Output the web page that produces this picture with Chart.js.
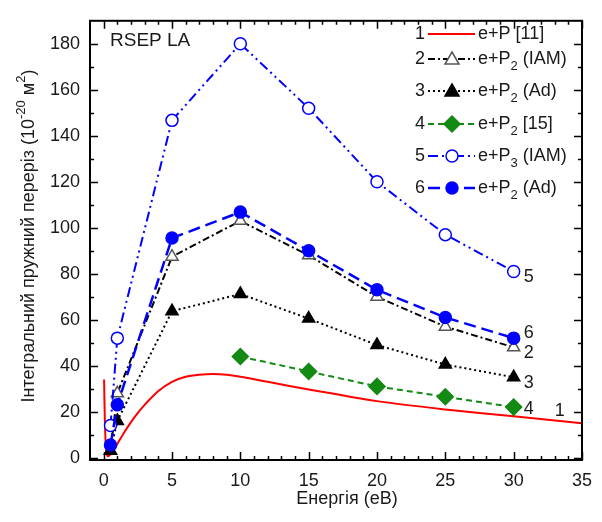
<!DOCTYPE html>
<html>
<head>
<meta charset="utf-8">
<script src="https://cdn.jsdelivr.net/npm/chart.js@4.4.0/dist/chart.umd.min.js"></script>
<style>
    html, body { margin: 0; padding: 0; background: #fff; }
    #wrap { width: 602px; height: 522px; }
</style>
</head>
<body>
<div id="wrap"><canvas id="chart" width="602" height="522"></canvas></div>
<script>
// --- data ---
const energy = [0.5, 1, 5, 10, 15, 20, 25, 30];
const p2IAM = [3, 28, 87.4, 103, 88, 70, 57, 48];
const p2Ad = [3, 16, 63.7, 71.2, 60.5, 49, 40.5, 35];
const p3IAM = [14, 52, 146.7, 180, 152, 120, 97, 81];
const p2AdFull = [5.5, 23, 95.5, 106.8, 90, 73, 61, 52];
const ref15Energy = [10, 15, 20, 25, 30];
const ref15 = [44, 37.5, 31, 26.5, 22];
const pEnergy = [0.03, 0.08, 0.14, 0.2, 0.3, 0.5, 0.75, 1, 1.5, 2, 2.5, 3, 4, 5, 6, 7, 8, 9, 10, 12, 15, 20, 25, 30, 35];
const pCross = [34, 18, 7, 2.5, 0.6, 1.5, 3.5, 6, 11, 15.5, 19.5, 23, 29, 33, 35.2, 36.1, 36.4, 36.1, 35.2, 33, 29.7, 24.6, 21, 18, 15];
const xTicks = [0, 5, 10, 15, 20, 25, 30, 35];
const yTicks = [0, 20, 40, 60, 80, 100, 120, 140, 160, 180];

const FONT = '"Liberation Sans", Arial, sans-serif';
const RED = '#ff0000', BLUE = '#0000ff', GREEN = '#138a13', BLACK = '#000000';

const pts = (xs, ys) => xs.map((x, i) => ({ x: x, y: ys[i] }));

// series styles, shared with the hand drawn legend
const series = [
    { n: '1', label: ['e+P [11]'], color: RED, dash: [], width: 2, style: false },
    { n: '2', label: ['e+P', '2', ' (IAM)'], color: BLACK, dash: [7, 3, 2, 3], width: 2, style: 'triangle', fill: '#fff', pColor: '#555' },
    { n: '3', label: ['e+P', '2', ' (Ad)'], color: BLACK, dash: [2, 3], width: 2, style: 'triangle', fill: BLACK, pColor: BLACK },
    { n: '4', label: ['e+P', '2', ' [15]'], color: GREEN, dash: [6, 4], width: 2, style: 'rectRot', fill: GREEN, pColor: GREEN },
    { n: '5', label: ['e+P', '3', ' (IAM)'], color: BLUE, dash: [10, 4, 2, 4, 2, 4], width: 2, style: 'circle', fill: '#fff', pColor: BLUE },
    { n: '6', label: ['e+P', '2', ' (Ad)'], color: BLUE, dash: [12, 6], width: 2.5, style: 'circle', fill: BLUE, pColor: BLUE }
];
const seriesData = [pts(pEnergy, pCross), pts(energy, p2IAM), pts(energy, p2Ad), pts(ref15Energy, ref15), pts(energy, p3IAM), pts(energy, p2AdFull)];
const endLabels = [
    { i: 0, x: 33, y: 15, dx: 0, dy: -12 },
    { i: 1, x: 30, y: 48, dx: 10, dy: 6 },
    { i: 2, x: 30, y: 35, dx: 10, dy: 6 },
    { i: 3, x: 30, y: 22, dx: 10, dy: 2 },
    { i: 4, x: 30, y: 81, dx: 10, dy: 6 },
    { i: 5, x: 30, y: 52, dx: 10, dy: -5 }
];

function drawMarker(ctx, s, x, y) {
    if (!s.style) return;
    ctx.save();
    ctx.setLineDash([]);
    ctx.lineWidth = 1.5;
    ctx.strokeStyle = s.pColor;
    ctx.fillStyle = s.fill;
    ctx.beginPath();
    if (s.style === 'circle') {
        ctx.arc(x, y, 6, 0, Math.PI * 2);
    } else if (s.style === 'triangle') {
        ctx.moveTo(x, y - 7); ctx.lineTo(x + 7, y + 5); ctx.lineTo(x - 7, y + 5); ctx.closePath();
    } else {
        ctx.moveTo(x, y - 8); ctx.lineTo(x + 8, y); ctx.lineTo(x, y + 8); ctx.lineTo(x - 8, y); ctx.closePath();
    }
    ctx.fill();
    ctx.stroke();
    ctx.restore();
}

// text with sub/superscript pieces: [main, script, main, script, ...]
function drawPieces(ctx, pieces, x, y, shift) {
    let cx = x;
    pieces.forEach((p, k) => {
        const small = k % 2 === 1;
        ctx.font = (small ? '13px ' : '18px ') + FONT;
        ctx.fillText(p, cx, small ? y + shift : y);
        cx += ctx.measureText(p).width;
    });
    return cx - x;
}
function piecesWidth(ctx, pieces) {
    let w = 0;
    pieces.forEach((p, k) => {
        ctx.font = (k % 2 === 1 ? '13px ' : '18px ') + FONT;
        w += ctx.measureText(p).width;
    });
    return w;
}

const decorations = {
    id: 'decorations',
    afterDraw(chart) {
        const ctx = chart.ctx;
        const a = chart.chartArea;
        const xs = chart.scales.x, ys = chart.scales.y;
        ctx.save();
        // frame
        ctx.strokeStyle = '#000';
        ctx.lineWidth = 2;
        ctx.strokeRect(a.left, a.top, a.right - a.left, a.bottom - a.top);
        // inward ticks
        ctx.lineWidth = 1.5;
        ctx.beginPath();
        for (let v = 0; v <= 35; v++) {
            const px = Math.round(xs.getPixelForValue(v)) + 0.5;
            const len = v % 5 === 0 ? 8 : 4;
            ctx.moveTo(px, a.bottom); ctx.lineTo(px, a.bottom - len);
            ctx.moveTo(px, a.top); ctx.lineTo(px, a.top + len);
        }
        for (let v = 0; v <= 180; v += 10) {
            const py = Math.round(ys.getPixelForValue(v)) + 0.5;
            const len = v % 20 === 0 ? 8 : 4;
            ctx.moveTo(a.left, py); ctx.lineTo(a.left + len, py);
            ctx.moveTo(a.right, py); ctx.lineTo(a.right - len, py);
        }
        ctx.stroke();

        ctx.fillStyle = '#1a1a1a';
        ctx.textBaseline = 'middle';
        // panel label
        ctx.font = '19px ' + FONT;
        ctx.textAlign = 'left';
        ctx.fillText('RSEP LA', 110, 41);

        // legend
        const rows = [34, 59, 91, 124, 156, 188];
        series.forEach((s, i) => {
            const y = rows[i];
            ctx.fillStyle = '#1a1a1a';
            ctx.textAlign = 'right';
            ctx.font = '18px ' + FONT;
            ctx.fillText(s.n, 425, y);
            ctx.save();
            ctx.strokeStyle = s.color;
            ctx.lineWidth = s.width;
            ctx.setLineDash(s.dash);
            ctx.beginPath();
            ctx.moveTo(428, y); ctx.lineTo(475, y);
            ctx.stroke();
            ctx.restore();
            drawMarker(ctx, s, 452, y);
            ctx.textAlign = 'left';
            ctx.fillStyle = '#1a1a1a';
            drawPieces(ctx, s.label, 478, y, 7);
        });

        // curve numbers at the right ends
        ctx.font = '18px ' + FONT;
        ctx.textAlign = 'left';
        endLabels.forEach(l => {
            const px = xs.getPixelForValue(l.x) + l.dx;
            const py = ys.getPixelForValue(l.y) + l.dy;
            ctx.fillText(series[l.i].n, px, py);
        });

        // axis titles
        ctx.textAlign = 'center';
        ctx.font = '18px ' + FONT;
        ctx.fillText('Енергія (еВ)', 347, 499);

        const yTitle = ['Інтегральний пружний переріз (10', '-20', ' м', '2', ')'];
        ctx.save();
        ctx.translate(29, 236);
        ctx.rotate(-Math.PI / 2);
        ctx.textAlign = 'left';
        const w = piecesWidth(ctx, yTitle);
        drawPieces(ctx, yTitle, -w / 2, 0, -8);
        ctx.restore();
        ctx.restore();
    }
};

const datasets = series.map((s, i) => ({
    label: s.n,
    data: seriesData[i],
    borderColor: s.color,
    borderWidth: s.width,
    borderDash: s.dash,
    backgroundColor: s.fill || s.color,
    pointStyle: s.style || 'circle',
    pointRadius: s.style ? (s.style === 'rectRot' ? 8 : (s.style === 'triangle' ? 7 : 6)) : 0,
    pointBorderColor: s.pColor || s.color,
    pointBackgroundColor: s.fill || s.color,
    pointBorderWidth: 1.5,
    tension: i === 0 ? 0.3 : 0,
    fill: false,
    order: i === 0 ? 10 : 6 - i
}));

new Chart(document.getElementById('chart'), {
    type: 'line',
    data: { datasets: datasets },
    options: {
        responsive: false,
        animation: false,
        layout: { padding: { left: 0, right: 20, top: 10, bottom: 0 } },
        plugins: { legend: { display: false }, tooltip: { enabled: false } },
        scales: {
            x: {
                type: 'linear',
                min: -1,
                max: 35,
                afterBuildTicks: s => { s.ticks = xTicks.map(v => ({ value: v })); },
                afterFit: s => { s.height = 62; },
                grid: { display: false, drawTicks: false },
                border: { display: false },
                ticks: { padding: 10, color: '#1a1a1a', font: { family: FONT, size: 18 }, maxRotation: 0 }
            },
            y: {
                type: 'linear',
                min: -1,
                max: 190,
                afterBuildTicks: s => { s.ticks = yTicks.map(v => ({ value: v })); },
                afterFit: s => { s.width = 90; },
                grid: { display: false, drawTicks: false },
                border: { display: false },
                ticks: { padding: 10, color: '#1a1a1a', font: { family: FONT, size: 18 } }
            }
        }
    },
    plugins: [decorations]
});
</script>
</body>
</html>
